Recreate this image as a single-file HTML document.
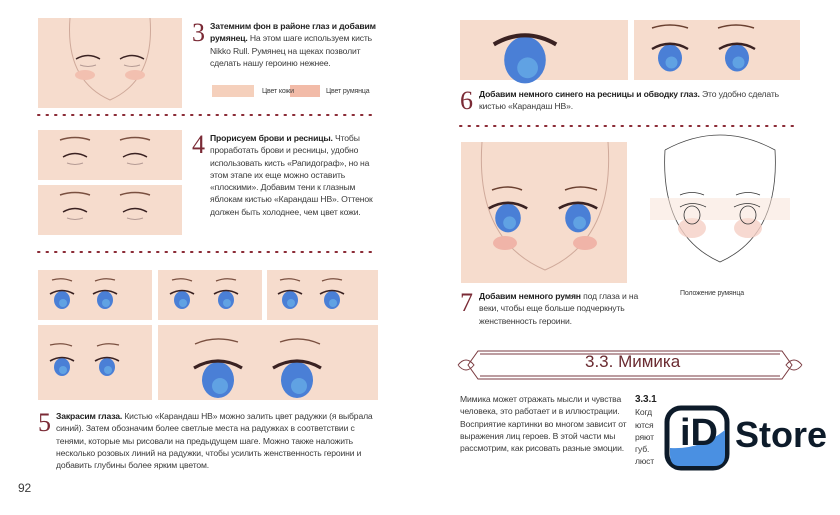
<!DOCTYPE html>
<html><head><meta charset="utf-8"><style>
body{margin:0;width:840px;height:515px;background:#fff;position:relative;overflow:hidden;font-family:"Liberation Sans",sans-serif;color:#3a3a3a}
.t{position:absolute;font-size:8.6px;line-height:12.3px;letter-spacing:-0.15px}
.t b{color:#222}
.n{position:absolute;font-family:"Liberation Serif",serif;font-size:26px;color:#7a2a35;line-height:26px}
</style></head><body>
<svg width="840" height="515" style="position:absolute;left:0;top:0">
<defs>
<g id="eye"><ellipse cx="0" cy="0" rx="8" ry="9" fill="#4a7fd6"/><ellipse cx="1" cy="3" rx="4" ry="4" fill="#6ab0e8" opacity=".7"/><path d="M-12,-6 Q0,-13 12,-6" stroke="#3a2222" stroke-width="1.6" fill="none"/></g>
<g id="lash"><path d="M-12,-3 Q0,-10 12,-3" stroke="#3a2222" stroke-width="1.4" fill="none"/><path d="M-8,3 Q0,6 8,3" stroke="#b49a94" stroke-width="1" fill="none"/></g>
</defs>
<g fill="#f6dccd">
<rect x="38" y="18" width="144" height="90"/>
<rect x="38" y="130" width="144" height="50"/>
<rect x="38" y="185" width="144" height="50"/>
<rect x="38" y="270" width="114" height="50"/>
<rect x="158" y="270" width="104" height="50"/>
<rect x="267" y="270" width="111" height="50"/>
<rect x="38" y="325" width="114" height="75"/>
<rect x="158" y="325" width="220" height="75"/>
<rect x="460" y="20" width="168" height="60"/>
<rect x="634" y="20" width="166" height="60"/>
<rect x="461" y="142" width="166" height="141"/>
</g>
<rect x="212" y="85" width="42" height="12" fill="#f5d0bc"/>
<rect x="290" y="85" width="30" height="12" fill="#f2bba8"/>
<path d="M70,18 Q65,80 110,100 Q155,80 150,18" stroke="#cfa99a" fill="none"/>
<ellipse cx="85" cy="75" rx="10" ry="5" fill="#f2c0b0"/><ellipse cx="135" cy="75" rx="10" ry="5" fill="#f2c0b0"/>
<use href="#lash" x="88" y="62"/><use href="#lash" x="132" y="62"/>
<g><path d="M60,140 Q75,135 90,140 M120,140 Q135,135 150,140" stroke="#7a5040" stroke-width="1.5" fill="none"/>
<use href="#lash" x="75" y="160"/><use href="#lash" x="135" y="160"/>
<path d="M60,195 Q75,190 90,195 M120,195 Q135,190 150,195" stroke="#7a5040" stroke-width="1.5" fill="none"/>
<use href="#lash" x="75" y="215"/><use href="#lash" x="135" y="215"/></g>
<g stroke="#7a5040" stroke-width="1.3" fill="none">
<path d="M52,280 Q62,277 72,281 M95,281 Q105,277 115,280 M172,280 Q182,277 192,281 M216,281 Q226,277 236,280 M280,280 Q290,277 300,281 M322,281 Q332,277 342,280 M50,345 Q62,342 72,346 M97,346 Q107,342 119,345 M195,344 Q215,335 238,342 M280,342 Q300,335 320,344"/>
</g>
<use href="#eye" x="62" y="300"/><use href="#eye" x="105" y="300"/>
<use href="#eye" x="182" y="300"/><use href="#eye" x="226" y="300"/>
<use href="#eye" x="290" y="300"/><use href="#eye" x="332" y="300"/>
<use href="#eye" x="62" y="367"/><use href="#eye" x="107" y="367"/>
<use href="#eye" transform="translate(218,380) scale(2)"/><use href="#eye" transform="translate(297,380) scale(2)"/>
<use href="#eye" transform="translate(525,60) scale(2.6)"/>
<path d="M652,28 Q670,22 688,28 M718,28 Q736,22 754,28" stroke="#6a4030" stroke-width="1.5" fill="none"/>
<use href="#eye" transform="translate(670,58) scale(1.5)"/><use href="#eye" transform="translate(737,58) scale(1.5)"/>
<path d="M482,142 Q475,240 545,270 Q615,240 608,142" stroke="#cfa99a" fill="none"/>
<ellipse cx="505" cy="243" rx="12" ry="7" fill="#f0b4a8"/><ellipse cx="585" cy="243" rx="12" ry="7" fill="#f0b4a8"/>
<path d="M492,190 Q508,184 522,190 M565,190 Q580,184 597,190" stroke="#6a4030" stroke-width="1.5" fill="none"/>
<use href="#eye" transform="translate(508,218) scale(1.6)"/><use href="#eye" transform="translate(578,218) scale(1.6)"/>
<path d="M665,150 Q660,235 720,262 Q780,235 775,150 Q720,120 665,150" stroke="#444" fill="none" stroke-width=".8"/>
<ellipse cx="692" cy="228" rx="14" ry="10" fill="#f5cfc5" opacity=".8"/><ellipse cx="748" cy="228" rx="14" ry="10" fill="#f5cfc5" opacity=".8"/>
<rect x="650" y="198" width="140" height="22" fill="#f8e2d6" opacity=".5"/>
<g stroke="#333" fill="none" stroke-width=".8"><path d="M680,195 Q692,190 704,195 M736,195 Q748,190 760,195"/><ellipse cx="692" cy="215" rx="8" ry="9"/><ellipse cx="748" cy="215" rx="8" ry="9"/><path d="M680,207 Q692,200 706,207 M734,207 Q748,200 760,207"/></g>
<g stroke="#8a2a35" stroke-width="2" stroke-dasharray="1.5 7" stroke-linecap="round">
<line x1="38" y1="115" x2="378" y2="115"/><line x1="38" y1="252" x2="378" y2="252"/><line x1="460" y1="126" x2="800" y2="126"/>
</g>
<g stroke="#7a3a40" fill="none" stroke-width="1">
<path d="M478,351 L782,351 L792,365 L782,379 L478,379 L468,365 Z"/>
<path d="M480,354 L780,354 M480,376 L780,376"/>
<path d="M458,365 Q466,355 474,365 Q466,375 458,365 M802,365 Q794,355 786,365 Q794,375 802,365"/>
</g>
<rect x="667" y="408" width="60" height="60" rx="14" fill="#fff" stroke="#0d1b2a" stroke-width="5"/>
<path d="M670,448 Q700,450 725,430 L725,455 Q725,466 714,466 L680,466 Q670,466 670,455 Z" fill="#4a90e2"/>
</svg>
<div class="n" style="left:192px;top:20px">3</div>
<div class="t" style="left:210px;top:20px;width:176px"><b>Затемним фон в районе глаз и добавим румянец.</b> На этом шаге используем кисть Nikko Rull. Румянец на щеках позволит сделать нашу героиню нежнее.</div>
<div class="t" style="left:262px;top:86px;font-size:7px">Цвет кожи</div>
<div class="t" style="left:326px;top:86px;font-size:7px">Цвет румянца</div>
<div class="n" style="left:192px;top:132px">4</div>
<div class="t" style="left:210px;top:132px;width:178px"><b>Прорисуем брови и ресницы.</b> Чтобы проработать брови и ресницы, удобно использовать кисть «Рапидограф», но на этом этапе их еще можно оставить «плоскими». Добавим тени к глазным яблокам кистью «Карандаш НВ». Оттенок должен быть холоднее, чем цвет кожи.</div>
<div class="n" style="left:38px;top:410px">5</div>
<div class="t" style="left:56px;top:410px;width:330px"><b>Закрасим глаза.</b> Кистью «Карандаш НВ» можно залить цвет радужки (я выбрала синий). Затем обозначим более светлые места на радужках в соответствии с тенями, которые мы рисовали на предыдущем шаге. Можно также наложить несколько розовых линий на радужки, чтобы усилить женственность героини и добавить глубины более ярким цветом.</div>
<div class="t" style="left:18px;top:482px;font-size:12px">92</div>
<div class="n" style="left:460px;top:88px">6</div>
<div class="t" style="left:479px;top:88px;width:325px"><b>Добавим немного синего на ресницы и обводку глаз.</b> Это удобно сделать кистью «Карандаш НВ».</div>
<div class="t" style="left:680px;top:288px;font-size:7px">Положение румянца</div>
<div class="n" style="left:460px;top:290px">7</div>
<div class="t" style="left:479px;top:290px;width:165px"><b>Добавим немного румян</b> под глаза и на веки, чтобы еще больше подчеркнуть женственность героини.</div>
<div style="position:absolute;left:585px;top:352px;font-size:17px;color:#6a2a30;font-family:'Liberation Sans',sans-serif">3.3. Мимика</div>
<div class="t" style="left:460px;top:393px;width:175px">Мимика может отражать мысли и чувства человека, это работает и в иллюстрации. Восприятие картинки во многом зависит от выражения лиц героев. В этой части мы рассмотрим, как рисовать разные эмоции.</div>
<div class="t" style="left:635px;top:393px;width:30px;overflow:hidden;white-space:nowrap"><b style="font-size:10px">3.3.1</b><br>Когд<br>ются<br>ряют<br>губ.<br>люст</div>
<div style="position:absolute;left:680px;top:408px;font-size:38px;font-weight:bold;color:#0d1b2a;line-height:50px">iD</div>
<div style="position:absolute;left:735px;top:410px;font-size:36px;font-weight:bold;color:#0d1b2a;line-height:50px">Store</div>
</body></html>
